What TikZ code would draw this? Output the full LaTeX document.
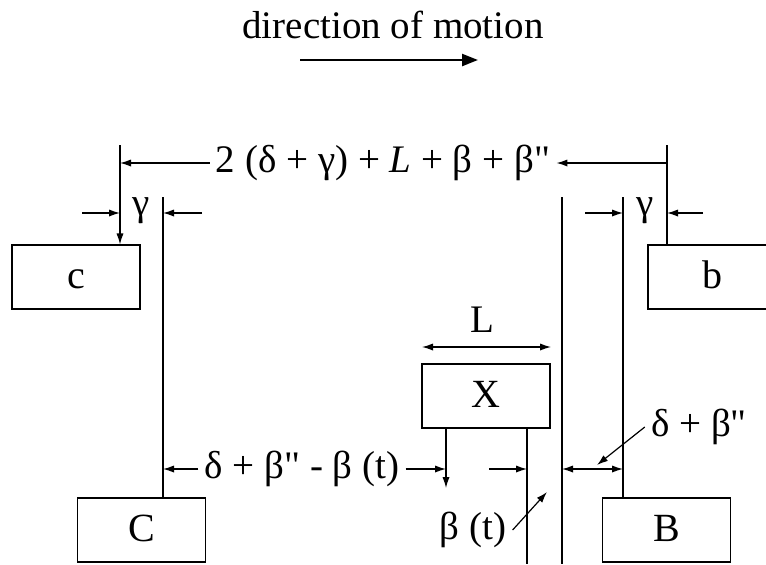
\documentclass[tikz,border=0pt]{standalone}
\usepackage{fontspec}
\setmainfont{Liberation Serif}[Ligatures=TeXOff]
\usetikzlibrary{arrows.meta, positioning}

\begin{document}
\begin{tikzpicture}[x=0.5pt, y=-0.5pt, font=\fontsize{19.5}{22}\selectfont,
    box/.style={draw, line width=0.6pt, minimum width=64pt, minimum height=32pt, inner sep=0pt,
        font=\fontsize{20}{22}\selectfont, text height=11pt, text depth=0pt},
    wall/.style={line width=0.6pt},
    dim/.style={line width=0.6pt, -{Latex[length=5.5pt,width=3.6pt]}},
    dimboth/.style={line width=0.6pt, {Latex[length=5.5pt,width=3.6pt]}-{Latex[length=5.5pt,width=3.6pt]}},
    lbl/.style={inner sep=3pt}]
    \useasboundingbox (0,0) rectangle (766,564);

    \node[lbl] (title) at (393,25) {direction of motion};
    \coordinate (mstart) at (300,60);
    \coordinate (mend) at (478,60);
    \draw[line width=1.2pt, -{Triangle[length=8pt,width=6pt]}] (mstart) -- (mend);

    \node[box] (c) at (76,277) {c};
    \node[box] (b) at (712,277) {b};
    \node[box] (C) at (141.5,530) {C};
    \node[box] (B) at (666.5,530) {B};
    \node[box] (X) at (486,396) {X};

    \coordinate (ltop) at (120,145);
    \coordinate (rtop) at (667,145);
    \coordinate (wl) at (163,197);
    \coordinate (wr) at (623,197);
    \coordinate (wt) at (562,197);
    \coordinate (wtb) at (562,564);
    \coordinate (xrb) at (527,564);
    \draw[dim] (ltop) -- (ltop |- c.north);
    \draw[wall] (rtop) -- (rtop |- b.north);
    \draw[wall] (wl) -- (wl |- C.north);
    \draw[wall] (wr) -- (wr |- B.north);
    \draw[line width=1.4pt] (wt) -- (wtb);
    \draw[wall] (xrb |- X.south) -- (xrb);

    \node[lbl] (span) at (383,163) {2 (δ + γ) + \textit{L} + β + β"};
    \draw[dim] (span.west) -- (span.west -| ltop);
    \draw[dim] (span.east -| rtop) -- (span.east);

    \node[lbl] (gl) at (141,211) {γ};
    \coordinate (gla) at (82,213);
    \coordinate (glb) at (202,213);
    \draw[dim] (gla) -- (gla -| ltop);
    \draw[dim] (glb) -- (glb -| wl);

    \node[lbl] (gr) at (645,211) {γ};
    \coordinate (gra) at (585,213);
    \coordinate (grb) at (703,213);
    \draw[dim] (gra) -- (gra -| wr);
    \draw[dim] (grb) -- (grb -| rtop);

    \node[lbl] (gap) at (302,469) {δ + β" - β (t)};
    \coordinate (xdrop) at (446,488);
    \coordinate (xra) at (489,469);
    \draw[dim] (gap.west) -- (gap.west -| wl);
    \draw[dim] (gap.east) -- (gap.east -| xdrop);
    \draw[dim] (xdrop |- X.south) -- (xdrop);
    \draw[dim] (xra) -- (xra -| xrb);
    \draw[dimboth] (wt |- xra) -- (wr |- xra);

    \node[lbl] (lenL) at (482,320) {L};
    \coordinate (la) at (422,347);
    \coordinate (lb) at (551,347);
    \draw[dimboth] (la) -- (lb);

    \node[lbl] (gapb) at (699,427) {δ + β"};
    \coordinate (gbt) at (597,465);
    \draw[dim] (gapb.west) -- (gbt);

    \node[lbl] (bt) at (473,530) {β (t)};
    \coordinate (btt) at (547,492);
    \draw[dim] (bt.east) -- (btt);
\end{tikzpicture}
\end{document}
